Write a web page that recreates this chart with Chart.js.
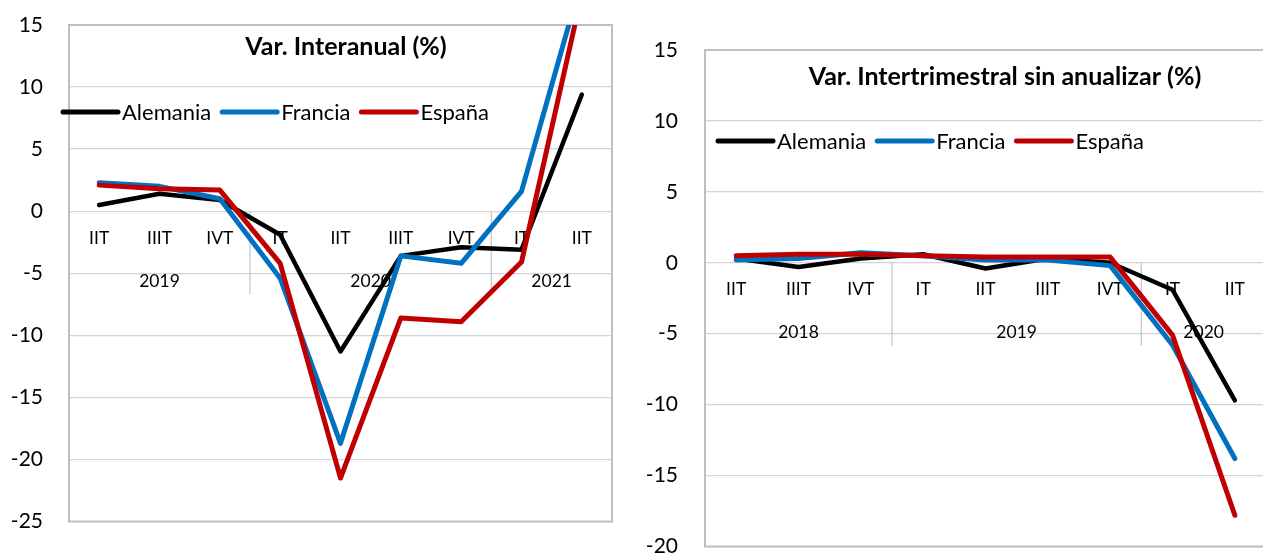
<!DOCTYPE html>
<html>
<head>
<meta charset="utf-8">
<script src="https://cdn.jsdelivr.net/npm/chart.js@4/dist/chart.umd.min.js"></script>
<style>
  html, body { margin: 0; padding: 0; background: #fff; overflow: hidden; width: 1263px; height: 557px; }
  canvas { position: absolute; top: 0; }
  #c1 { left: 0; }
  #c2 { left: 625px; }
</style>
</head>
<body>
<canvas id="c1" width="620" height="557"></canvas>
<canvas id="c2" width="645" height="557"></canvas>
<script>
// ---------- Data ----------
const seriesNames = ["Alemania", "Francia", "España"];
const seriesColors = ["#000000", "#0070C0", "#C00000"];

// Left chart: Var. Interanual (%)
const title1 = "Var. Interanual (%)";
const quarters1 = ["IIT", "IIIT", "IVT", "IT", "IIT", "IIIT", "IVT", "IT", "IIT"];
const years1 = ["2019", "2020", "2021"];
const yearSpans1 = [3, 4, 2];
const alemania1 = [0.5, 1.4, 0.9, -1.9, -11.3, -3.6, -2.9, -3.1, 9.4];
const francia1 = [2.3, 2.0, 1.0, -5.4, -18.7, -3.6, -4.2, 1.6, 18.7];
const espana1 = [2.1, 1.8, 1.7, -4.2, -21.5, -8.6, -8.9, -4.1, 17.5];
const yTicks1 = { min: -25, max: 15, step: 5 };

// Right chart: Var. Intertrimestral sin anualizar (%)
const title2 = "Var. Intertrimestral sin anualizar (%)";
const quarters2 = ["IIT", "IIIT", "IVT", "IT", "IIT", "IIIT", "IVT", "IT", "IIT"];
const years2 = ["2018", "2019", "2020"];
const yearSpans2 = [3, 4, 2];
const alemania2 = [0.3, -0.3, 0.3, 0.6, -0.4, 0.3, 0.0, -1.9, -9.7];
const francia2 = [0.2, 0.3, 0.7, 0.5, 0.2, 0.2, -0.2, -5.8, -13.8];
const espana2 = [0.5, 0.6, 0.6, 0.5, 0.4, 0.4, 0.4, -5.1, -17.8];
const yTicks2 = { min: -20, max: 15, step: 5 };

// ---------- Drawing ----------
const FONT = "Lato";

function decorPlugin(cfg) {
  return {
    id: "decor_" + cfg.key,
    beforeDatasetsDraw(chart) {
      const ctx = chart.ctx;
      const ca = chart.chartArea;
      const xs = chart.scales.x, ys = chart.scales.y;
      const y0 = ys.getPixelForValue(0);
      ctx.save();
      // category labels beside zero line
      ctx.fillStyle = "#000";
      ctx.font = "17.5px " + FONT;
      ctx.textAlign = "center";
      ctx.textBaseline = "middle";
      cfg.quarters.forEach((q, i) => {
        ctx.fillText(q, xs.getPixelForValue(i), y0 + 27);
      });
      // year groups, separators
      let start = 0;
      ctx.strokeStyle = "#C8C8C8";
      ctx.lineWidth = 1.3;
      cfg.yearSpans.forEach((span, k) => {
        const a = xs.getPixelForValue(start), b = xs.getPixelForValue(start + span - 1);
        ctx.fillText(cfg.years[k], (a + b) / 2, y0 + 70);
        if (k > 0) {
          const sx = (xs.getPixelForValue(start - 1) + a) / 2;
          ctx.beginPath();
          ctx.moveTo(sx, y0);
          ctx.lineTo(sx, y0 + 83);
          ctx.stroke();
        }
        start += span;
      });
      // plot border
      ctx.strokeStyle = "#BFBFBF";
      ctx.lineWidth = 2;
      ctx.strokeRect(ca.left, ca.top, ca.right - ca.left, ca.bottom - ca.top);
      // title
      ctx.font = "bold 25px " + FONT;
      ctx.textAlign = "center";
      ctx.fillText(cfg.title, cfg.titleX, cfg.titleY);
      // legend
      ctx.font = "22px " + FONT;
      ctx.textAlign = "left";
      let x = cfg.legendX;
      const ly = cfg.legendY;
      seriesNames.forEach((name, i) => {
        ctx.strokeStyle = seriesColors[i];
        ctx.lineWidth = 5;
        ctx.lineCap = "round";
        ctx.beginPath();
        ctx.moveTo(x + 2, ly);
        ctx.lineTo(x + 57, ly);
        ctx.stroke();
        ctx.fillStyle = "#000";
        ctx.fillText(name, x + 61, ly + 1);
        x += 61 + ctx.measureText(name).width + 9;
      });
      ctx.restore();
    }
  };
}

function makeChart(id, cfg) {
  const data = {
    labels: cfg.quarters,
    datasets: cfg.values.map((v, i) => ({
      label: seriesNames[i],
      data: v,
      borderColor: seriesColors[i],
      backgroundColor: seriesColors[i],
      borderWidth: i === 0 ? 4.5 : 5,
      pointRadius: 0,
      tension: 0,
      borderJoinStyle: "round",
      borderCapStyle: "round",
      order: 2 - i
    }))
  };
  return new Chart(document.getElementById(id), {
    type: "line",
    data,
    options: {
      responsive: false,
      animation: false,
      devicePixelRatio: 1,
      layout: { padding: cfg.padding },
      plugins: { legend: { display: false }, title: { display: false }, tooltip: { enabled: false } },
      scales: {
        x: {
          type: "category",
          offset: true,
          display: false
        },
        y: {
          min: cfg.yTicks.min,
          max: cfg.yTicks.max,
          afterFit(scale) {
            scale.width = cfg.axisWidth;
            scale.paddingTop = 0;
            scale.paddingBottom = 0;
          },
          ticks: {
            stepSize: cfg.yTicks.step,
            color: "#000",
            font: { family: FONT, size: 21 },
            padding: cfg.tickPad
          },
          grid: { color: "#D4D4D4", lineWidth: 1.3, drawTicks: false },
          border: { display: false }
        }
      }
    },
    plugins: [decorPlugin(cfg)]
  });
}

makeChart("c1", {
  key: "a",
  quarters: quarters1, years: years1, yearSpans: yearSpans1,
  values: [alemania1, francia1, espana1],
  yTicks: yTicks1,
  padding: { left: 0, top: 25, right: 8, bottom: 35.5 },
  axisWidth: 69, tickPad: 26,
  title: title1, titleX: 346, titleY: 47,
  legendX: 61, legendY: 112
});

makeChart("c2", {
  key: "b",
  quarters: quarters2, years: years2, yearSpans: yearSpans2,
  values: [alemania2, francia2, espana2],
  yTicks: yTicks2,
  padding: { left: 0, top: 50, right: 4, bottom: 10.5 },
  axisWidth: 80, tickPad: 27,
  title: title2, titleX: 1005 - 625, titleY: 77,
  legendX: 716 - 625, legendY: 141
});
</script>
</body>
</html>
